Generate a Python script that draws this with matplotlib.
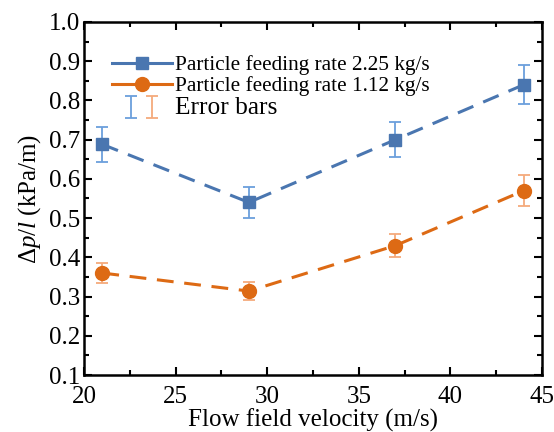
import matplotlib
matplotlib.use("Agg")
import matplotlib.pyplot as plt
from matplotlib.legend_handler import HandlerTuple
from matplotlib.ticker import MultipleLocator
from matplotlib.lines import Line2D

plt.rcParams['font.family'] = ['Liberation Serif', 'DejaVu Serif']
plt.rcParams['mathtext.fontset'] = 'custom'
plt.rcParams['mathtext.rm'] = 'Liberation Serif'
plt.rcParams['mathtext.it'] = 'Liberation Serif:italic'

velocity = [21, 29, 37, 44]
rate_225 = [0.688, 0.540, 0.700, 0.840]
err_225 = [0.045, 0.040, 0.045, 0.050]
rate_112 = [0.360, 0.314, 0.430, 0.570]
err_112 = [0.025, 0.022, 0.030, 0.040]
labels = ["Particle feeding rate 2.25 kg/s", "Particle feeding rate 1.12 kg/s", "Error bars"]

blue = '#4a76b0'
orange = '#dd6a14'
blue_light = '#6b9fdc'
orange_light = '#f5aa7c'

fig = plt.figure(figsize=(5.54, 4.32), dpi=100)
ax = fig.add_axes([84/554, 1-375/432, (542-84)/554, (375-22)/432])

e1 = ax.errorbar(velocity, rate_225, yerr=err_225, fmt='none', ecolor=blue_light,
                 elinewidth=1.3, capsize=4, capthick=1.3, zorder=2)
e2 = ax.errorbar(velocity, rate_112, yerr=err_112, fmt='none', ecolor=orange_light,
                 elinewidth=1.3, capsize=4, capthick=1.3, zorder=2)
l1, = ax.plot(velocity, rate_225, color=blue, lw=2.2, dashes=(5.5, 3.5), marker='s', ms=9, zorder=3)
l2, = ax.plot(velocity, rate_112, color=orange, lw=2.2, dashes=(5.5, 3.5), marker='o', ms=10, zorder=3)

ax.set_xlim(20, 45)
ax.set_ylim(0.1, 1.0)
ax.xaxis.set_major_locator(MultipleLocator(5))
ax.xaxis.set_minor_locator(MultipleLocator(2.5))
ax.yaxis.set_major_locator(MultipleLocator(0.1))
ax.yaxis.set_minor_locator(MultipleLocator(0.05))
ax.tick_params(which='both', direction='in', top=True, right=True, labelsize=18, width=1.5)
ax.tick_params(which='major', length=6)
ax.tick_params(which='minor', length=3.5)
ax.tick_params(axis='x', pad=8)
ax.tick_params(axis='y', pad=3)
for s in ax.spines.values():
    s.set_linewidth(1.8)

ax.set_xlabel("Flow field velocity (m/s)", fontsize=18, labelpad=0)
ax.set_ylabel(r"$\mathit{Δp/l}$ (kPa/m)", fontsize=18, labelpad=4)

h1 = Line2D([], [], color=blue, lw=2.2, marker='s', ms=9)
h2 = Line2D([], [], color=orange, lw=2.2, marker='o', ms=10)
leg = ax.legend([h1, h2, (e1, e2)], labels,
                handler_map={tuple: HandlerTuple(ndivide=None, pad=-0.85)},
                loc='upper left', bbox_to_anchor=(0.061, 0.905), frameon=False,
                fontsize=15.3, handlelength=2.82, handletextpad=0.14,
                labelspacing=0.05, borderaxespad=0.0, borderpad=0.0)
leg.get_texts()[2].set_fontsize(18.3)

fig.savefig("out.png", dpi=100)
